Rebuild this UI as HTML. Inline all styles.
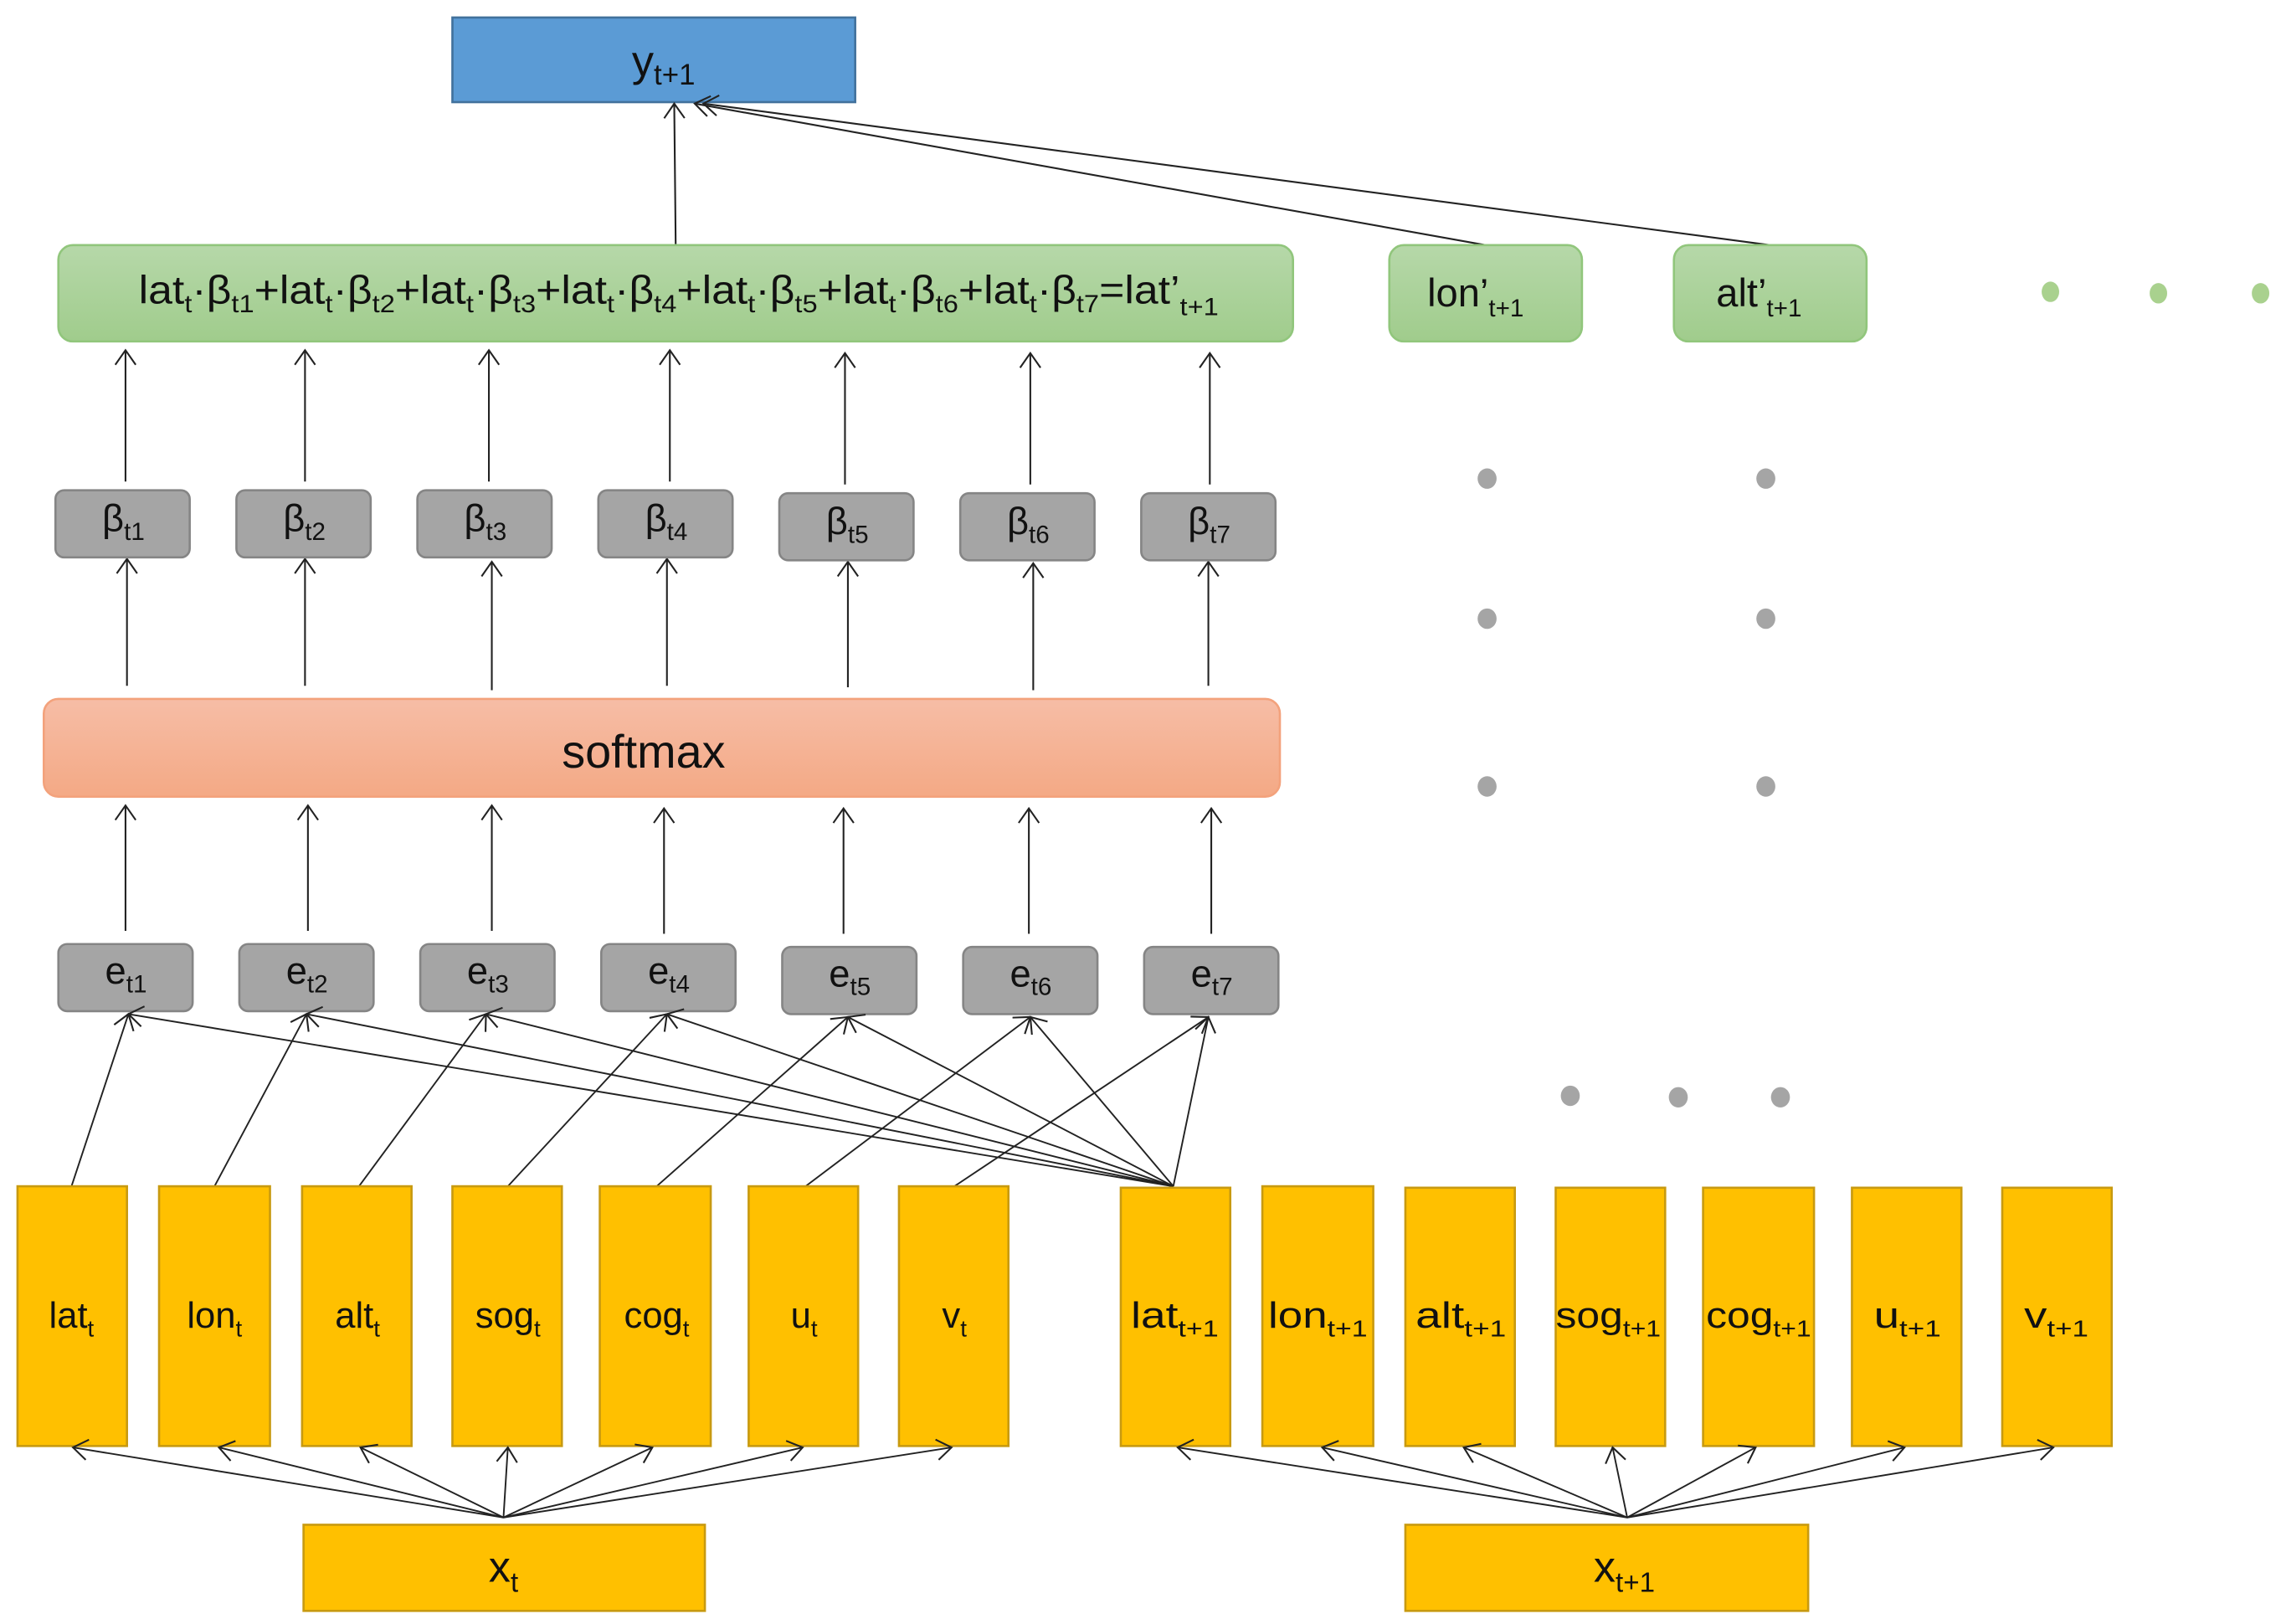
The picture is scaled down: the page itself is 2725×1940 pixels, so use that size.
<!DOCTYPE html>
<html><head><meta charset="utf-8"><style>
html,body{margin:0;padding:0;background:#fff;}
svg{display:block;}
text{font-family:"Liberation Sans Narrow","Liberation Sans",sans-serif;fill:#111;}
</style></head><body>
<svg width="2725" height="1940" viewBox="0 0 1563 1113" preserveAspectRatio="none" xmlns="http://www.w3.org/2000/svg">
<defs>
<marker id="a" markerUnits="userSpaceOnUse" markerWidth="24" markerHeight="24" refX="12" refY="12" orient="auto">
<path d="M2,5 L12,12 L2,19" fill="none" stroke="#222" stroke-width="1.2"/>
</marker>
<linearGradient id="g" x1="0" y1="0" x2="0" y2="1"><stop offset="0" stop-color="#b6d8a9"/><stop offset="1" stop-color="#a0cc8c"/></linearGradient>
<linearGradient id="s" x1="0" y1="0" x2="0" y2="1"><stop offset="0" stop-color="#f6bda6"/><stop offset="1" stop-color="#f4a985"/></linearGradient>
</defs>

<!-- y box -->
<rect x="310" y="12" width="276" height="58" fill="#5b9bd5" stroke="#41719c" stroke-width="1.5"/>
<text x="433" y="52" font-size="30">y<tspan font-size="20" dy="6">t+1</tspan></text>

<!-- top connectors -->
<g stroke="#222" stroke-width="1.2" fill="none">
<line x1="463" y1="168" x2="462" y2="71" marker-end="url(#a)"/>
<line x1="1018" y1="168" x2="476" y2="71" marker-end="url(#a)"/>
<line x1="1213" y1="168" x2="482" y2="71" marker-end="url(#a)"/>
</g>

<!-- green boxes -->
<rect x="40" y="168" width="846" height="66" rx="10" fill="url(#g)" stroke="#91c67c" stroke-width="1.5"/>
<text x="95" y="208" font-size="27" textLength="740" lengthAdjust="spacingAndGlyphs">lat<tspan font-size="17" dy="6">t</tspan><tspan dy="-6">·β</tspan><tspan font-size="17" dy="6">t1</tspan><tspan dy="-6">+lat</tspan><tspan font-size="17" dy="6">t</tspan><tspan dy="-6">·β</tspan><tspan font-size="17" dy="6">t2</tspan><tspan dy="-6">+lat</tspan><tspan font-size="17" dy="6">t</tspan><tspan dy="-6">·β</tspan><tspan font-size="17" dy="6">t3</tspan><tspan dy="-6">+lat</tspan><tspan font-size="17" dy="6">t</tspan><tspan dy="-6">·β</tspan><tspan font-size="17" dy="6">t4</tspan><tspan dy="-6">+lat</tspan><tspan font-size="17" dy="6">t</tspan><tspan dy="-6">·β</tspan><tspan font-size="17" dy="6">t5</tspan><tspan dy="-6">+lat</tspan><tspan font-size="17" dy="6">t</tspan><tspan dy="-6">·β</tspan><tspan font-size="17" dy="6">t6</tspan><tspan dy="-6">+lat</tspan><tspan font-size="17" dy="6">t</tspan><tspan dy="-6">·β</tspan><tspan font-size="17" dy="6">t7</tspan><tspan dy="-6">=lat’</tspan><tspan font-size="17" dy="8">t+1</tspan></text>

<rect x="952" y="168" width="132" height="66" rx="10" fill="url(#g)" stroke="#91c67c" stroke-width="1.5"/>
<text x="978" y="210" font-size="27">lon’<tspan font-size="17" dy="7">t+1</tspan></text>
<rect x="1147" y="168" width="132" height="66" rx="10" fill="url(#g)" stroke="#91c67c" stroke-width="1.5"/>
<text x="1176" y="210" font-size="27">alt’<tspan font-size="17" dy="7">t+1</tspan></text>

<g fill="#a9d18e">
<ellipse cx="1405" cy="200" rx="6" ry="7"/><ellipse cx="1479" cy="201" rx="6" ry="7"/><ellipse cx="1549" cy="201" rx="6" ry="7"/>
</g>
<g fill="#a5a5a5">
<ellipse cx="1019" cy="328" rx="6.5" ry="7"/><ellipse cx="1210" cy="328" rx="6.5" ry="7"/>
<ellipse cx="1019" cy="424" rx="6.5" ry="7"/><ellipse cx="1210" cy="424" rx="6.5" ry="7"/>
<ellipse cx="1019" cy="539" rx="6.5" ry="7"/><ellipse cx="1210" cy="539" rx="6.5" ry="7"/>
<ellipse cx="1076" cy="751" rx="6.5" ry="7"/><ellipse cx="1150" cy="752" rx="6.5" ry="7"/><ellipse cx="1220" cy="752" rx="6.5" ry="7"/>
</g>

<!-- vertical arrows -->
<g stroke="#222" stroke-width="1.2" fill="none">
<line x1="86" y1="330" x2="86" y2="240" marker-end="url(#a)"/>
<line x1="209" y1="330" x2="209" y2="240" marker-end="url(#a)"/>
<line x1="335" y1="330" x2="335" y2="240" marker-end="url(#a)"/>
<line x1="459" y1="330" x2="459" y2="240" marker-end="url(#a)"/>
<line x1="579" y1="332" x2="579" y2="242" marker-end="url(#a)"/>
<line x1="706" y1="332" x2="706" y2="242" marker-end="url(#a)"/>
<line x1="829" y1="332" x2="829" y2="242" marker-end="url(#a)"/>

<line x1="87" y1="470" x2="87" y2="383" marker-end="url(#a)"/>
<line x1="209" y1="470" x2="209" y2="383" marker-end="url(#a)"/>
<line x1="337" y1="473" x2="337" y2="385" marker-end="url(#a)"/>
<line x1="457" y1="470" x2="457" y2="383" marker-end="url(#a)"/>
<line x1="581" y1="471" x2="581" y2="385" marker-end="url(#a)"/>
<line x1="708" y1="473" x2="708" y2="386" marker-end="url(#a)"/>
<line x1="828" y1="470" x2="828" y2="385" marker-end="url(#a)"/>

<line x1="86" y1="638" x2="86" y2="552" marker-end="url(#a)"/>
<line x1="211" y1="638" x2="211" y2="552" marker-end="url(#a)"/>
<line x1="337" y1="638" x2="337" y2="552" marker-end="url(#a)"/>
<line x1="455" y1="640" x2="455" y2="554" marker-end="url(#a)"/>
<line x1="578" y1="640" x2="578" y2="554" marker-end="url(#a)"/>
<line x1="705" y1="640" x2="705" y2="554" marker-end="url(#a)"/>
<line x1="830" y1="640" x2="830" y2="554" marker-end="url(#a)"/>
</g>

<!-- beta boxes -->
<g fill="#a5a5a5" stroke="#858585" stroke-width="1.5">
<rect x="38" y="336" width="92" height="46" rx="6"/>
<rect x="162" y="336" width="92" height="46" rx="6"/>
<rect x="286" y="336" width="92" height="46" rx="6"/>
<rect x="410" y="336" width="92" height="46" rx="6"/>
<rect x="534" y="338" width="92" height="46" rx="6"/>
<rect x="658" y="338" width="92" height="46" rx="6"/>
<rect x="782" y="338" width="92" height="46" rx="6"/>
</g>
<g font-size="26">
<text x="70" y="364">β<tspan font-size="17" dy="6">t1</tspan></text>
<text x="194" y="364">β<tspan font-size="17" dy="6">t2</tspan></text>
<text x="318" y="364">β<tspan font-size="17" dy="6">t3</tspan></text>
<text x="442" y="364">β<tspan font-size="17" dy="6">t4</tspan></text>
<text x="566" y="366">β<tspan font-size="17" dy="6">t5</tspan></text>
<text x="690" y="366">β<tspan font-size="17" dy="6">t6</tspan></text>
<text x="814" y="366">β<tspan font-size="17" dy="6">t7</tspan></text>
</g>

<!-- softmax -->
<rect x="30" y="479" width="847" height="67" rx="10" fill="url(#s)" stroke="#f3a27c" stroke-width="1.5"/>
<text x="441" y="526" font-size="32" text-anchor="middle">softmax</text>

<!-- e boxes -->
<g fill="#a5a5a5" stroke="#858585" stroke-width="1.5">
<rect x="40" y="647" width="92" height="46" rx="6"/>
<rect x="164" y="647" width="92" height="46" rx="6"/>
<rect x="288" y="647" width="92" height="46" rx="6"/>
<rect x="412" y="647" width="92" height="46" rx="6"/>
<rect x="536" y="649" width="92" height="46" rx="6"/>
<rect x="660" y="649" width="92" height="46" rx="6"/>
<rect x="784" y="649" width="92" height="46" rx="6"/>
</g>
<g font-size="26">
<text x="72" y="674">e<tspan font-size="17" dy="6">t1</tspan></text>
<text x="196" y="674">e<tspan font-size="17" dy="6">t2</tspan></text>
<text x="320" y="674">e<tspan font-size="17" dy="6">t3</tspan></text>
<text x="444" y="674">e<tspan font-size="17" dy="6">t4</tspan></text>
<text x="568" y="676">e<tspan font-size="17" dy="6">t5</tspan></text>
<text x="692" y="676">e<tspan font-size="17" dy="6">t6</tspan></text>
<text x="816" y="676">e<tspan font-size="17" dy="6">t7</tspan></text>
</g>

<!-- inputs to e -->
<g stroke="#222" stroke-width="1.1" fill="none">
<line x1="49" y1="813" x2="88" y2="695" marker-end="url(#a)"/>
<line x1="147" y1="813" x2="210" y2="695" marker-end="url(#a)"/>
<line x1="246" y1="813" x2="333" y2="695" marker-end="url(#a)"/>
<line x1="348" y1="813" x2="457" y2="695" marker-end="url(#a)"/>
<line x1="450" y1="813" x2="581" y2="697" marker-end="url(#a)"/>
<line x1="552" y1="813" x2="706" y2="697" marker-end="url(#a)"/>
<line x1="654" y1="813" x2="828" y2="697" marker-end="url(#a)"/>
<line x1="804" y1="813" x2="88" y2="695" marker-end="url(#a)"/>
<line x1="804" y1="813" x2="210" y2="695" marker-end="url(#a)"/>
<line x1="804" y1="813" x2="333" y2="695" marker-end="url(#a)"/>
<line x1="804" y1="813" x2="457" y2="695" marker-end="url(#a)"/>
<line x1="804" y1="813" x2="581" y2="697" marker-end="url(#a)"/>
<line x1="804" y1="813" x2="706" y2="697" marker-end="url(#a)"/>
<line x1="804" y1="813" x2="828" y2="697" marker-end="url(#a)"/>
</g>

<!-- yellow input boxes -->
<g fill="#ffc000" stroke="#c89a10" stroke-width="1.5">
<rect x="12" y="813" width="75" height="178"/>
<rect x="109" y="813" width="76" height="178"/>
<rect x="207" y="813" width="75" height="178"/>
<rect x="310" y="813" width="75" height="178"/>
<rect x="411" y="813" width="76" height="178"/>
<rect x="513" y="813" width="75" height="178"/>
<rect x="616" y="813" width="75" height="178"/>
<rect x="768" y="814" width="75" height="177"/>
<rect x="865" y="813" width="76" height="178"/>
<rect x="963" y="814" width="75" height="177"/>
<rect x="1066" y="814" width="75" height="177"/>
<rect x="1167" y="814" width="76" height="177"/>
<rect x="1269" y="814" width="75" height="177"/>
<rect x="1372" y="814" width="75" height="177"/>
<rect x="208" y="1045" width="275" height="59"/>
<rect x="963" y="1045" width="276" height="59"/>
</g>
<g font-size="25" text-anchor="middle">
<text x="49" y="910">lat<tspan font-size="16" dy="6">t</tspan></text>
<text x="147" y="910">lon<tspan font-size="16" dy="6">t</tspan></text>
<text x="245" y="910">alt<tspan font-size="16" dy="6">t</tspan></text>
<text x="348" y="910">sog<tspan font-size="16" dy="6">t</tspan></text>
<text x="450" y="910">cog<tspan font-size="16" dy="6">t</tspan></text>
<text x="551" y="910">u<tspan font-size="16" dy="6">t</tspan></text>
<text x="654" y="910">v<tspan font-size="16" dy="6">t</tspan></text>
<text x="805" y="910" textLength="60" lengthAdjust="spacingAndGlyphs">lat<tspan font-size="16" dy="6">t+1</tspan></text>
<text x="903" y="910" textLength="68" lengthAdjust="spacingAndGlyphs">lon<tspan font-size="16" dy="6">t+1</tspan></text>
<text x="1001" y="910" textLength="62" lengthAdjust="spacingAndGlyphs">alt<tspan font-size="16" dy="6">t+1</tspan></text>
<text x="1102" y="910" textLength="72" lengthAdjust="spacingAndGlyphs">sog<tspan font-size="16" dy="6">t+1</tspan></text>
<text x="1205" y="910" textLength="72" lengthAdjust="spacingAndGlyphs">cog<tspan font-size="16" dy="6">t+1</tspan></text>
<text x="1307" y="910" textLength="46" lengthAdjust="spacingAndGlyphs">u<tspan font-size="16" dy="6">t+1</tspan></text>
<text x="1409" y="910" textLength="44" lengthAdjust="spacingAndGlyphs">v<tspan font-size="16" dy="6">t+1</tspan></text>
<text x="345" y="1084" font-size="30">x<tspan font-size="19" dy="7">t</tspan></text>
<text x="1113" y="1084" font-size="30">x<tspan font-size="19" dy="7">t+1</tspan></text>
</g>

<!-- x to inputs -->
<g stroke="#222" stroke-width="1.1" fill="none">
<line x1="345" y1="1040" x2="50" y2="992" marker-end="url(#a)"/>
<line x1="345" y1="1040" x2="150" y2="992" marker-end="url(#a)"/>
<line x1="345" y1="1040" x2="247" y2="992" marker-end="url(#a)"/>
<line x1="345" y1="1040" x2="348" y2="992" marker-end="url(#a)"/>
<line x1="345" y1="1040" x2="447" y2="992" marker-end="url(#a)"/>
<line x1="345" y1="1040" x2="550" y2="992" marker-end="url(#a)"/>
<line x1="345" y1="1040" x2="652" y2="992" marker-end="url(#a)"/>
<line x1="1115" y1="1040" x2="807" y2="992" marker-end="url(#a)"/>
<line x1="1115" y1="1040" x2="906" y2="992" marker-end="url(#a)"/>
<line x1="1115" y1="1040" x2="1003" y2="992" marker-end="url(#a)"/>
<line x1="1115" y1="1040" x2="1105" y2="992" marker-end="url(#a)"/>
<line x1="1115" y1="1040" x2="1203" y2="992" marker-end="url(#a)"/>
<line x1="1115" y1="1040" x2="1305" y2="992" marker-end="url(#a)"/>
<line x1="1115" y1="1040" x2="1407" y2="992" marker-end="url(#a)"/>
</g>
</svg>
</body></html>
